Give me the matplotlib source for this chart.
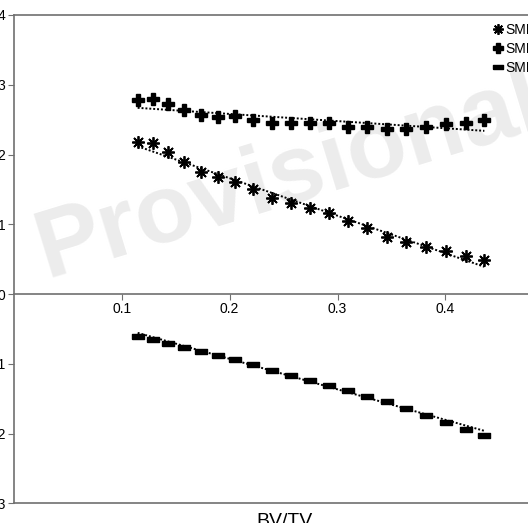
import numpy as np
import matplotlib
matplotlib.use("Agg")
from matplotlib import pyplot as plt

plt.rcParams['font.family'] = ['Liberation Sans', 'DejaVu Sans']

# BV/TV values (same for all three series)
bvtv = [0.1148, 0.1287, 0.1426, 0.1574, 0.1731, 0.1889, 0.2046, 0.2213, 0.2389, 0.2565,
        0.2741, 0.2917, 0.3093, 0.3278, 0.3463, 0.3639, 0.3824, 0.4009, 0.4194, 0.4361]

smi = [2.18, 2.16, 2.04, 1.89, 1.75, 1.68, 1.61, 1.51, 1.38, 1.31,
       1.24, 1.16, 1.05, 0.94, 0.82, 0.74, 0.68, 0.61, 0.55, 0.49]
smi_plus = [2.78, 2.80, 2.73, 2.64, 2.57, 2.54, 2.55, 2.49, 2.45, 2.45,
            2.45, 2.45, 2.40, 2.39, 2.37, 2.37, 2.40, 2.44, 2.45, 2.50]
smi_minus = [-0.60, -0.64, -0.70, -0.76, -0.82, -0.87, -0.93, -1.00, -1.09, -1.16,
             -1.23, -1.30, -1.37, -1.46, -1.54, -1.63, -1.73, -1.83, -1.93, -2.02]

labels = ['SMI', 'SMI+', 'SMI-']
x_ticks = [0.1, 0.2, 0.3, 0.4]
y_ticks = [-3, -2, -1, 0, 1, 2, 3, 4]

W, H = 528, 523
fig = plt.figure(figsize=(W / 100, H / 100), dpi=100)
# axes runs past the right edge of the picture, like the cropped original
ax = fig.add_axes([13.8 / W, (H - 503.3) / H, 539.5 / W, 488.3 / H])

# watermark behind the data
ax.text(290 / W, 1 - 176 / H, 'Provisional', transform=fig.transFigure,
        fontsize=70, fontweight='bold', color='#ececec', rotation=17,
        ha='center', va='center', zorder=0, clip_on=False)

dash = [(-1, -0.4), (1, -0.4), (1, 0.4), (-1, 0.4), (-1, -0.4)]
styles = [
    dict(marker=(8, 2, 0), markersize=9, markeredgewidth=1.3),
    dict(marker='P', markersize=9),
    dict(marker=dash, markersize=9),
]
handles = []
x = np.array(bvtv)
for y, lab, st in zip([smi, smi_plus, smi_minus], labels, styles):
    h, = ax.plot(bvtv, y, linestyle='none', color='black', label=lab, zorder=3, **st)
    handles.append(h)
    k, b = np.polyfit(x, y, 1)
    ax.plot([x[0], x[-1]], [k * x[0] + b, k * x[-1] + b], color='black',
            linestyle=(0, (1, 1)), lw=1.4, zorder=2)

ax.set_xlim(0, 0.5)
ax.set_ylim(-3, 4)
ax.set_xticks(x_ticks)
ax.set_xticklabels([str(t) for t in x_ticks])
ax.set_yticks(y_ticks)
ax.set_yticklabels([str(t) for t in y_ticks])

axis_color = '#707070'
for s in ax.spines.values():
    s.set_color(axis_color)
    s.set_linewidth(1.2)
ax.spines['bottom'].set_position(('data', 0))
ax.axhline(-3, color=axis_color, lw=1.2, clip_on=False)
ax.tick_params(direction='out', length=4, color=axis_color, labelsize=10, pad=2)

ax.legend(handles=handles, loc='upper left', bbox_to_anchor=(492 / W, 1 - 23 / H),
          bbox_transform=fig.transFigure, frameon=False, fontsize=10,
          handlelength=0.8, handletextpad=0.15, borderpad=0, borderaxespad=0,
          labelspacing=0.35, markerscale=0.85)

fig.text(284 / W, 1 - 513 / H, 'BV/TV', fontsize=14, ha='center', va='top')

fig.savefig('out.png', dpi=100)
